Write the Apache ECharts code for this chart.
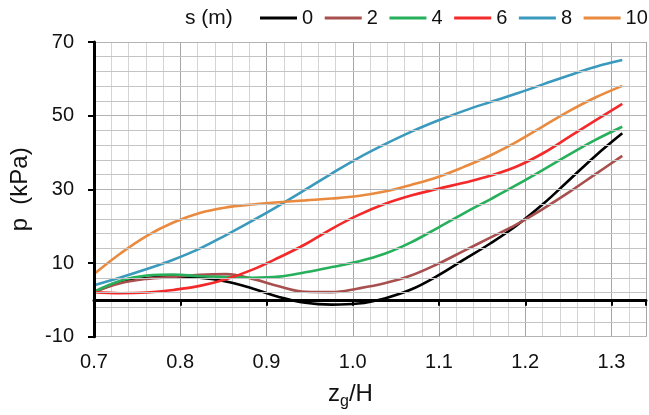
<!DOCTYPE html>
<html>
<head>
<meta charset="utf-8">
<script src="https://cdn.jsdelivr.net/npm/echarts@6/dist/echarts.min.js"></script>
<style>
  html, body { margin: 0; padding: 0; background: #ffffff; }
  #chart { width: 649px; height: 415px; }
</style>
</head>
<body>
<div id="chart"></div>
<script>
// Normalised depth z_g/H at which the pressure curves are sampled (evenly spaced)
const zg = [0.7000, 0.7306, 0.7613, 0.7919, 0.8225, 0.8531, 0.8838, 0.9144, 0.9450, 0.9756,
            1.0063, 1.0369, 1.0675, 1.0981, 1.1288, 1.1594, 1.1900, 1.2206, 1.2513, 1.2819, 1.3125];

// Pressure p (kPa) for each offset s (m)
const p_s0  = [2.1, 4.8, 5.9, 6.3, 6.0, 5.0, 3.1, 0.8, -0.8, -1.3, -1.0, 0.4, 2.8, 6.5, 10.9, 15.3, 20.2, 26.0, 32.6, 39.2, 45.2];
const p_s2  = [2.1, 4.5, 5.7, 6.2, 6.8, 7.0, 5.7, 3.7, 2.2, 2.1, 3.1, 4.5, 6.6, 9.7, 13.3, 16.9, 20.5, 24.7, 29.3, 34.2, 39.1];
const p_s4  = [2.2, 5.2, 6.6, 6.9, 6.4, 6.2, 6.0, 6.3, 7.5, 8.9, 10.4, 12.5, 15.6, 19.5, 23.5, 27.3, 31.2, 35.3, 39.5, 43.5, 47.0];
const p_s6  = [2.1, 1.8, 2.0, 2.7, 3.8, 5.6, 8.2, 11.5, 15.1, 19.3, 23.0, 26.0, 28.3, 30.1, 31.8, 33.7, 36.2, 39.8, 44.3, 48.8, 53.2];
const p_s8  = [4.0, 6.1, 8.4, 10.9, 13.9, 17.6, 21.5, 25.6, 29.9, 34.3, 38.5, 42.2, 45.6, 48.6, 51.3, 53.7, 56.0, 58.5, 61.0, 63.3, 65.1];
const p_s10 = [7.0, 12.6, 17.4, 21.0, 23.6, 25.1, 25.9, 26.5, 27.0, 27.5, 28.2, 29.4, 31.2, 33.3, 36.1, 39.2, 42.9, 47.1, 51.3, 55.0, 58.1];

const seriesNames = ['0', '2', '4', '6', '8', '10'];
const seriesValues = [p_s0, p_s2, p_s4, p_s6, p_s8, p_s10];
const seriesColors = ['#000000', '#a8504e', '#26b05b', '#f42a2a', '#3a9abd', '#e98a3e'];

const legendTitle = 's (m)';
const xTitleParts = ['z', 'g', '/H'];
const yTitle = 'p  (kPa)';

// Axis ranges and tick spacing
const xMin = 0.7, xMax = 1.34, xMajor = 0.1, xMinor = 0.02;
const yMin = -10, yMax = 70, yMajor = 20;

const FONT = '"Liberation Sans", Arial, sans-serif';

const chart = echarts.init(document.getElementById('chart'), null, { renderer: 'canvas' });

const series = seriesNames.map((name, i) => ({
  name: name,
  type: 'line',
  xAxisIndex: 0,
  yAxisIndex: 0,
  smooth: 0.4,
  symbol: 'none',
  lineStyle: { width: 2.6, color: seriesColors[i] },
  itemStyle: { color: seriesColors[i] },
  data: zg.map((x, k) => [x, seriesValues[i][k]]),
  z: 3
}));

const option = {
  animation: false,
  backgroundColor: '#ffffff',
  textStyle: { fontFamily: FONT },
  grid: { left: 91.5, top: 42, width: (xMax - xMin) * 882, height: 294.7, containLabel: false },
  legend: {
    data: seriesNames,
    left: 260,
    top: 8,
    width: 440,
    padding: 0,
    icon: 'rect',
    itemWidth: 37,
    itemHeight: 3,
    itemGap: 11.6,
    textStyle: { fontSize: 20, color: '#111111', fontFamily: FONT }
  },
  graphic: [{
    type: 'text',
    left: 185,
    top: 8,
    style: { text: legendTitle, font: '21px ' + FONT, fill: '#111111' }
  }],
  xAxis: [
    {
      // labels + major vertical grid lines
      type: 'value', min: xMin, max: xMax, interval: xMajor, position: 'bottom',
      z: 1,
      axisLine: { show: false, onZero: false },
      axisTick: { show: false },
      axisLabel: {
        margin: 16, fontSize: 20, color: '#111111', fontFamily: FONT,
        formatter: v => (Math.abs(v * 10 - Math.round(v * 10)) < 1e-6 && v <= 1.3 + 1e-9) ? v.toFixed(1) : ''
      },
      splitLine: { show: true, lineStyle: { color: '#a6a6a6', width: 1 } },
      name: '{z|' + xTitleParts[0] + '}{sub|' + xTitleParts[1] + '}{z|' + xTitleParts[2] + '}',
      nameLocation: 'middle',
      nameGap: 43,
      nameTextStyle: {
        padding: [0, 39, 0, 0],
        rich: {
          z: { fontSize: 24, color: '#111111', fontFamily: FONT },
          sub: { fontSize: 16, color: '#111111', fontFamily: FONT, padding: [14, 0, 0, 0] }
        }
      }
    },
    {
      // horizontal axis line drawn at p = 0 with its ticks
      type: 'value', min: xMin, max: xMax, interval: xMajor, position: 'top',
      z: 4,
      axisLine: { show: true, onZero: true, lineStyle: { color: '#000000', width: 3 } },
      axisTick: { show: true, inside: true, length: 6, lineStyle: { color: '#000000', width: 2 } },
      axisLabel: { show: false },
      splitLine: { show: false }
    },
    {
      // minor vertical grid lines
      type: 'value', min: xMin, max: xMax, interval: xMinor, position: 'top',
      z: 0,
      axisLine: { show: false, onZero: false },
      axisTick: { show: false },
      axisLabel: { show: false },
      splitLine: { show: true, lineStyle: { color: '#d4d4d4', width: 1 } }
    }
  ],
  yAxis: [{
    type: 'value', min: yMin, max: yMax, interval: yMajor,
    z: 4,
    axisLine: { show: true, onZero: false, lineStyle: { color: '#000000', width: 3 } },
    axisTick: { show: true, length: 6, lineStyle: { color: '#000000', width: 2 } },
    axisLabel: { margin: 20, fontSize: 20, color: '#111111', fontFamily: FONT },
    splitLine: { show: true, lineStyle: { color: '#b3b3b3', width: 1 } },
    minorTick: { show: false, splitNumber: 5 },
    minorSplitLine: { show: true, lineStyle: { color: '#c4c4c4', width: 1 } },
    name: yTitle,
    nameLocation: 'middle',
    nameGap: 62,
    nameTextStyle: { fontSize: 24, color: '#111111', fontFamily: FONT }
  }],
  series: series
};

chart.setOption(option);
</script>
</body>
</html>
